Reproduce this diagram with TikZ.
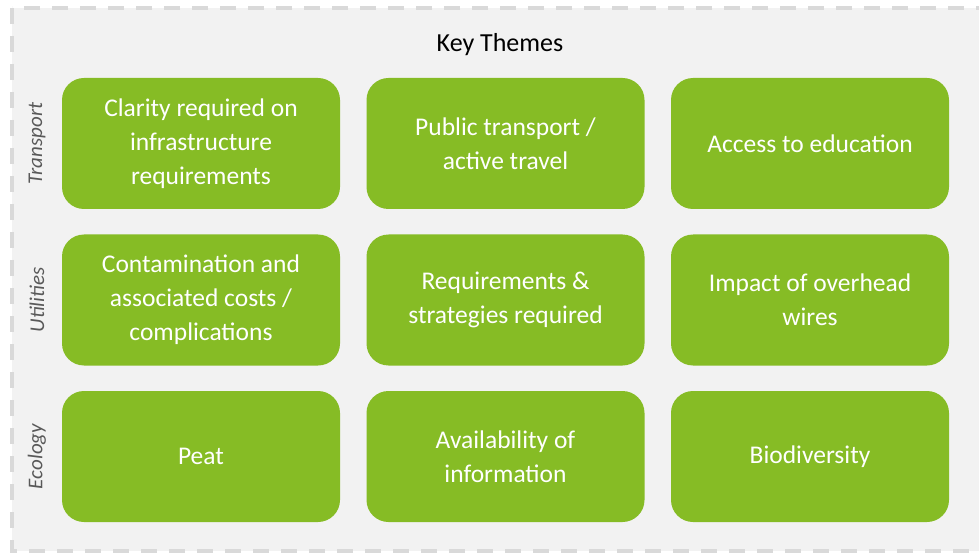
\documentclass[tikz,border=0pt]{standalone}
\usepackage{fontspec}
\setmainfont{Carlito}
\usetikzlibrary{positioning}

\definecolor{themegreen}{HTML}{86BC25}
\definecolor{panelgray}{HTML}{F2F2F2}
\definecolor{dashgray}{HTML}{D9D9D9}
\definecolor{labelgray}{HTML}{595959}

\begin{document}
\begin{tikzpicture}[x=1pt, y=-1pt, node distance=156.5pt and 304.5pt, on grid,
    theme/.style={rectangle, rounded corners=22pt, fill=themegreen, text=white,
        minimum width=278pt, minimum height=131pt, inner sep=0pt, align=center,
        font=\fontsize{25.5}{34}\selectfont},
    rowlabel/.style={rotate=90, text=labelgray, font=\itshape\fontsize{21}{25}\selectfont}]
    \useasboundingbox (0,0) rectangle (979,553);
    % panel
    \draw[fill=panelgray, draw=dashgray, line width=4pt, dash pattern=on 16pt off 12pt]
        (12,8) rectangle (995,551);
    \node[font=\fontsize{26}{30}\selectfont] (title) at (500,45) {Key Themes};
    % row 1
    \node[theme] (t1) at (201,143.5) {Clarity required on\\infrastructure\\requirements};
    \node[theme] (t2) [right=of t1] {Public transport /\\active travel};
    \node[theme] (t3) [right=of t2] {Access to education};
    % row 2
    \node[theme] (u1) [below=of t1] {Contamination and\\associated costs /\\complications};
    \node[theme] (u2) [right=of u1] {Requirements \&\\strategies required};
    \node[theme] (u3) [right=of u2] {Impact of overhead\\wires};
    % row 3
    \node[theme] (e1) [below=of u1] {Peat};
    \node[theme] (e2) [right=of e1] {Availability of\\information};
    \node[theme] (e3) [right=of e2] {Biodiversity};
    % row labels
    \node[rowlabel] (transport) [left=164pt of t1] {Transport};
    \node[rowlabel] (utilities) [left=164pt of u1] {Utilities};
    \node[rowlabel] (ecology) [left=164pt of e1] {Ecology};
\end{tikzpicture}
\end{document}
